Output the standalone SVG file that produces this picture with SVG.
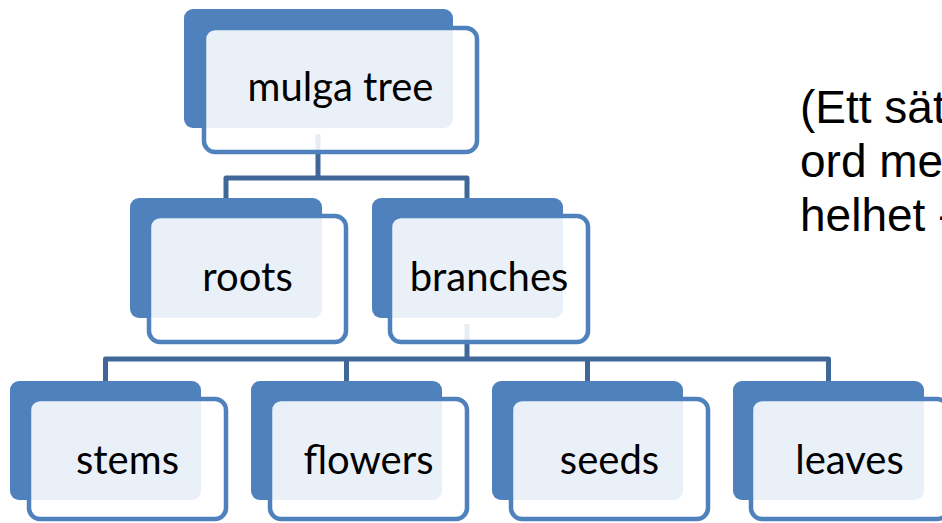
<svg xmlns="http://www.w3.org/2000/svg" width="942" height="523" viewBox="0 0 942 523">
  <style>
    .back { fill: #4F81BD; }
    .front { fill: #FFFFFF; fill-opacity: 0.88; stroke: #4F81BD; stroke-width: 4.5; }
    .label { font-family: Lato, "Open Sans", sans-serif; font-size: 40px; fill: #000000; text-anchor: middle; }
    .note { font-family: "Liberation Sans", Arial, sans-serif; font-size: 46px; fill: #000000; }
    .conn { fill: none; stroke: #3F6899; stroke-width: 5; stroke-linejoin: round; }
  </style>

  <!-- connectors sit beneath the nodes -->
  <g id="connectors">
    <path class="conn" d="M318 134 V178 M226 198 V178 H467 V198"/>
    <path class="conn" d="M467 324 V359 M105.5 381 V359 H828.5 V381 M346.5 381 V359 M587.5 381 V359"/>
  </g>

  <g id="node-mulga-tree">
    <rect class="back" x="184" y="9" width="269" height="119" rx="9"/>
    <rect class="front" x="204" y="28" width="273" height="124" rx="11"/>
    <text class="label" x="340.5" y="101">mulga tree</text>
  </g>

  <g id="node-roots">
    <rect class="back" x="130" y="198" width="192" height="120" rx="9"/>
    <rect class="front" x="149" y="216" width="197" height="126" rx="11"/>
    <text class="label" x="247.5" y="291">roots</text>
  </g>

  <g id="node-branches">
    <rect class="back" x="372" y="198" width="191" height="120" rx="9"/>
    <rect class="front" x="390" y="216" width="198" height="126" rx="11"/>
    <text class="label" x="489" y="291">branches</text>
  </g>

  <g id="node-stems">
    <rect class="back" x="10" y="381" width="191" height="119" rx="9"/>
    <rect class="front" x="29" y="399" width="197" height="120" rx="11"/>
    <text class="label" x="127.5" y="474">stems</text>
  </g>

  <g id="node-flowers">
    <rect class="back" x="251" y="381" width="191" height="119" rx="9"/>
    <rect class="front" x="270" y="399" width="197" height="120" rx="11"/>
    <text class="label" x="368.5" y="474">flowers</text>
  </g>

  <g id="node-seeds">
    <rect class="back" x="492" y="381" width="191" height="119" rx="9"/>
    <rect class="front" x="511" y="399" width="197" height="120" rx="11"/>
    <text class="label" x="609.5" y="474">seeds</text>
  </g>

  <g id="node-leaves">
    <rect class="back" x="733" y="381" width="191" height="119" rx="9"/>
    <rect class="front" x="751" y="399" width="197" height="120" rx="11"/>
    <text class="label" x="849.5" y="474">leaves</text>
  </g>

  <!-- side note, runs off the right edge -->
  <g id="note">
    <text class="note" x="800" y="123">(Ett sät</text>
    <text class="note" x="800" y="177">ord me</text>
    <text class="note" x="800" y="231">helhet -</text>
  </g>
</svg>
